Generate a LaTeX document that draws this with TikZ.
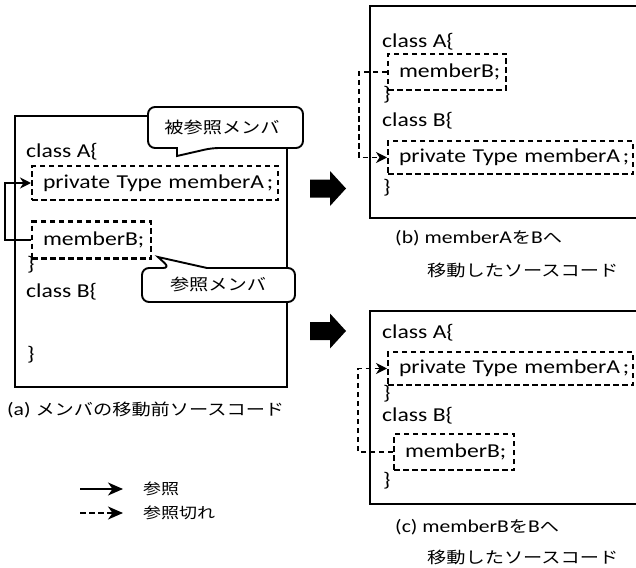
\documentclass[tikz,border=0pt]{standalone}
\usepackage{fontspec}
\setmainfont{Carlito}[FakeStretch=1.2]
\newfontfamily\jpfont{Noto Sans CJK JP}[FakeStretch=1.2]
\usetikzlibrary{arrows.meta}
\newcommand\jtxt[1]{{\fontsize{16pt}{19pt}\selectfont\jpfont #1}}
\newcommand\memA{private Type memberA\kern0.14em;}
\begin{document}
\begin{tikzpicture}[x=1pt,y=-1pt,
  frame/.style={draw, line width=2.2pt, anchor=north west, inner sep=0pt},
  membox/.style={draw, line width=2.1pt, dash pattern=on 5.5pt off 3.5pt, anchor=west,
     inner xsep=11pt, inner ysep=0pt, align=left, font=\fontsize{19.7pt}{22pt}\selectfont},
  code/.style={anchor=base west, inner sep=0pt, font=\fontsize{19.7pt}{22pt}\selectfont},
  captxt/.style={anchor=west, inner sep=0pt, font=\fontsize{18pt}{21pt}\selectfont},
  callout/.style={draw, fill=white, line width=1.9pt},
  jpl/.style={inner sep=0pt, font=\fontsize{16pt}{19pt}\selectfont\jpfont},
  refarrow/.style={line width=1.6pt, -{Stealth[length=11pt,width=11pt,inset=3.5pt]}},
  brkarrow/.style={refarrow, dash pattern=on 5.5pt off 3.5pt},
  blockarrow/.style={fill=black}]
\useasboundingbox (0,0) rectangle (636,567);

% ---------- (a) ----------
\node[frame, minimum width=272pt, minimum height=271pt] (boxa) at (14,115) {};
\node[code] (aA) at (26,157) {class A\{};
\node[membox, text width=224pt, minimum height=34pt] (mAa) at (31,183) {\mbox{\memA}};
\node[membox, text width=97pt, minimum height=37pt] (mBa) at (31,240) {\mbox{memberB;}};
\node[code] (aA2) at (27,270) {\}};
\node[code] (aB) at (26,297) {class B\{};
\node[code] (aB2) at (27,360) {\}};
\draw[refarrow] (mBa.west) -- ++(-26,0) |- (mAa.west);

% callouts
\draw[callout] (165,148) [rounded corners=7pt] -- (148,148) -- (148,107) -- (303,107) -- (303,148) -- (212,148) [sharp corners] -- (177,156) -- (177,148) -- cycle;
\node[jpl] (c1) at (222,127) {被参照メンバ};
\draw[callout] (142,285) [rounded corners=7pt] -- (142,268) -- (170,268) [sharp corners] -- (158,257) -- (207,268) [rounded corners=7pt] -- (295,268) -- (295,302) -- (142,302) -- cycle;
\node[jpl] (c2) at (218,284) {参照メンバ};

\node[captxt] (capa) at (7,410) {(a) \jtxt{メンバの移動前ソースコード}};

% block arrows
\fill[blockarrow] (310,179.5) -- (330,179.5) -- (330,171) -- (346,188.5) -- (330,206) -- (330,197.5) -- (310,197.5) -- cycle;
\fill[blockarrow] (310,322) -- (330,322) -- (330,313.5) -- (346,331) -- (330,348.5) -- (330,340) -- (310,340) -- cycle;

% ---------- (b) ----------
\node[frame, minimum width=280pt, minimum height=212pt] (boxb) at (369,5) {};
\node[code] (bA) at (382,47.5) {class A\{};
\node[membox, text width=96pt, minimum height=36pt] (mBb) at (387,72) {\mbox{memberB;}};
\node[code] (bA2) at (383,101) {\}};
\node[code] (bB) at (382,126) {class B\{};
\node[membox, text width=223pt, minimum height=33pt] (mAb) at (387,157.5) {\mbox{\memA}};
\node[code] (bB2) at (383,193) {\}};
\draw[brkarrow] (mBb.west) -- ++(-28,0) |- (mAb.west);
\node[captxt] (capb1) at (395,238) {(b) memberA\jtxt{を}B\jtxt{へ}};
\node[captxt] (capb2) at (427,270) {\jtxt{移動したソースコード}};

% ---------- (c) ----------
\node[frame, minimum width=280pt, minimum height=193pt] (boxc) at (369,310) {};
\node[code] (cA) at (382,338) {class A\{};
\node[membox, text width=223pt, minimum height=33pt] (mAc) at (387,368.5) {\mbox{\memA}};
\node[code] (cA2) at (383,399) {\}};
\node[code] (cB) at (382,421) {class B\{};
\node[membox, text width=98pt, minimum height=36pt] (mBc) at (393,452) {\mbox{memberB;}};
\node[code] (cB2) at (383,486) {\}};
\draw[brkarrow] (mBc.west) -- ++(-35,0) |- (mAc.west);
\node[captxt] (capc1) at (395,527) {(c) memberB\jtxt{を}B\jtxt{へ}};
\node[captxt] (capc2) at (427,557) {\jtxt{移動したソースコード}};

% ---------- legend ----------
\coordinate (l1s) at (80,489);
\coordinate (l1e) at (123,489);
\coordinate (l2s) at (80,513);
\coordinate (l2e) at (123,513);
\draw[refarrow, -{Stealth[length=15pt,width=13pt,inset=4.5pt]}] (l1s) -- (l1e);
\draw[brkarrow, -{Stealth[length=15pt,width=13pt,inset=4.5pt]}] (l2s) -- (l2e);
\node[jpl, anchor=west, font=\fontsize{15pt}{18pt}\selectfont\jpfont] (lt1) at (143,489) {参照};
\node[jpl, anchor=west, font=\fontsize{15pt}{18pt}\selectfont\jpfont] (lt2) at (143,513) {参照切れ};
\end{tikzpicture}
\end{document}
